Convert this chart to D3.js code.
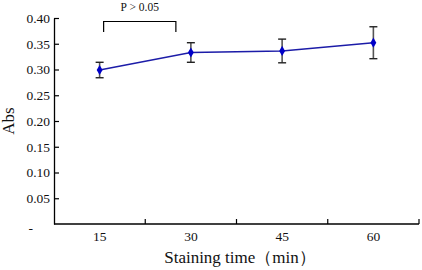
<!DOCTYPE html>
<html>
<head>
<meta charset="utf-8">
<script src="https://cdn.jsdelivr.net/npm/d3@7"></script>
<style>
  body { margin: 0; background: #fff; }
  svg text { font-family: "Liberation Serif", "Times New Roman", Times, "DejaVu Serif", serif !important; fill: #111; }
</style>
</head>
<body>
<div id="chart"></div>
<script>
// Chart data
let times = ["15", "30", "45", "60"];
let absMean = [0.299, 0.333, 0.336, 0.352];
let absErr = [0.015, 0.019, 0.023, 0.031];
let yTicks = [0, 0.05, 0.10, 0.15, 0.20, 0.25, 0.30, 0.35, 0.40];

let width = 422, height = 270;
let margin = {top: 18, right: 3, bottom: 46, left: 54};
let serif = "Liberation Serif";

let svg = d3.select("#chart").append("svg")
    .attr("width", width)
    .attr("height", height)
    .attr("font-family", serif);

// Scales
let x = d3.scaleBand()
    .domain(times)
    .range([margin.left, width - margin.right]);

let y = d3.scaleLinear()
    .domain([0, 0.40])
    .range([224, 18]);

// Y axis (ticks point inward)
let yAxis = d3.axisLeft(y)
    .tickValues(yTicks)
    .tickSize(0)
    .tickFormat(function (d) { return d === 0 ? "-" : d3.format(".2f")(d); });

let gy = svg.append("g")
    .attr("transform", "translate(" + margin.left + ",0)")
    .call(yAxis)
    .attr("font-family", serif)
    .attr("font-size", 13.5);
gy.select(".domain").attr("stroke", "#000").attr("stroke-width", 1.3);
gy.selectAll(".tick text")
    .attr("x", -4);
gy.selectAll(".tick text").filter(function (d) { return d === 0; })
    .attr("x", -21)
    .attr("dy", "0.6em");
gy.selectAll(".tick").filter(function (d) { return d > 0; })
    .append("line")
    .attr("x1", 0).attr("x2", 5)
    .attr("stroke", "#000").attr("stroke-width", 1.2);

// X axis: line with upward ticks at band boundaries
svg.append("line")
    .attr("x1", margin.left).attr("x2", width - margin.right)
    .attr("y1", y(0)).attr("y2", y(0))
    .attr("stroke", "#000").attr("stroke-width", 1.3);

svg.selectAll(".xtick")
    .data(times)
    .enter().append("line")
    .attr("class", "xtick")
    .attr("x1", function (d) { return x(d) + x.bandwidth(); })
    .attr("x2", function (d) { return x(d) + x.bandwidth(); })
    .attr("y1", y(0))
    .attr("y2", y(0) - 5)
    .attr("stroke", "#000").attr("stroke-width", 1.2);

svg.selectAll(".xlabel")
    .data(times)
    .enter().append("text")
    .attr("class", "xlabel")
    .attr("x", function (d) { return x(d) + x.bandwidth() / 2; })
    .attr("y", 241)
    .attr("text-anchor", "middle")
    .attr("font-size", 13.5)
    .text(function (d) { return d; });

// Axis titles
svg.append("text")
    .attr("transform", "translate(14,121) rotate(-90)")
    .attr("text-anchor", "middle")
    .attr("font-size", 17)
    .text("Abs");

svg.append("text")
    .attr("x", 240)
    .attr("y", 263)
    .attr("text-anchor", "middle")
    .attr("font-size", 17)
    .text("Staining time\uff08min\uff09");

let points = times.map(function (t, i) {
    return {t: t, v: absMean[i], e: absErr[i]};
});
let cx = function (d) { return x(d.t) + x.bandwidth() / 2; };

// Error bars
let eb = svg.selectAll(".err")
    .data(points)
    .enter().append("g")
    .attr("class", "err");
eb.append("line")
    .attr("x1", cx).attr("x2", cx)
    .attr("y1", function (d) { return y(d.v + d.e); })
    .attr("y2", function (d) { return y(d.v - d.e); })
    .attr("stroke", "#555").attr("stroke-width", 1.6);
eb.append("line")
    .attr("x1", function (d) { return cx(d) - 4; })
    .attr("x2", function (d) { return cx(d) + 4; })
    .attr("y1", function (d) { return y(d.v + d.e); })
    .attr("y2", function (d) { return y(d.v + d.e); })
    .attr("stroke", "#222").attr("stroke-width", 1.4);
eb.append("line")
    .attr("x1", function (d) { return cx(d) - 4; })
    .attr("x2", function (d) { return cx(d) + 4; })
    .attr("y1", function (d) { return y(d.v - d.e); })
    .attr("y2", function (d) { return y(d.v - d.e); })
    .attr("stroke", "#222").attr("stroke-width", 1.4);

// Line
svg.append("path")
    .datum(points)
    .attr("fill", "none")
    .attr("stroke", "#1c1ca8")
    .attr("stroke-width", 1.4)
    .attr("d", d3.line().x(cx).y(function (d) { return y(d.v); }));

// Diamond markers
svg.selectAll(".pt")
    .data(points)
    .enter().append("path")
    .attr("class", "pt")
    .attr("transform", function (d) { return "translate(" + cx(d) + "," + y(d.v) + ")"; })
    .attr("d", d3.symbol().type(d3.symbolDiamond).size(30))
    .attr("fill", "#0000c8");

// Significance bracket between 15 and 30
let bx1 = cx(points[0]) + 4, bx2 = cx(points[1]) - 15;
svg.append("path")
    .attr("d", "M" + bx1 + ",32V21.5H" + bx2 + "V32")
    .attr("fill", "none")
    .attr("stroke", "#000")
    .attr("stroke-width", 1.2);
svg.append("text")
    .attr("x", (bx1 + bx2) / 2)
    .attr("y", 11)
    .attr("text-anchor", "middle")
    .attr("font-size", 11.5)
    .text("P > 0.05");
</script>
</body>
</html>
